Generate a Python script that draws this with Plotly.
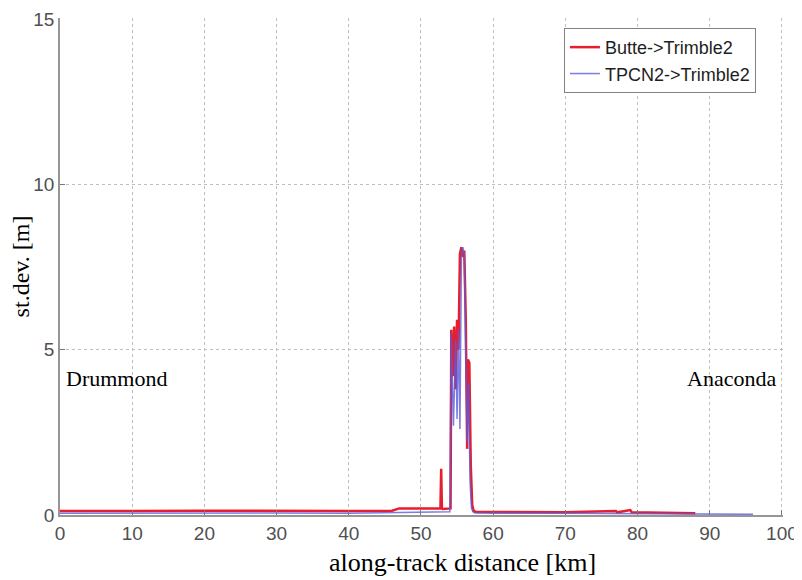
import plotly.graph_objects as go

# Butte->Trimble2
x_butte = [0, 5, 10, 20, 30, 40, 46, 47, 52.7, 52.8, 52.9, 53.0, 54.1, 54.2, 54.4, 54.6,
           54.8, 55.0, 55.2, 55.4, 55.6, 55.8, 56.0, 56.2, 56.4, 56.5, 56.7, 56.9, 57.1,
           57.3, 57.6, 60, 70, 77, 77.2, 79, 79.2, 88]
y_butte = [0.12, 0.13, 0.12, 0.13, 0.12, 0.12, 0.13, 0.2, 0.2, 1.4, 0.2, 0.18, 0.2, 5.6,
           4.2, 5.7, 3.8, 5.9, 5.0, 7.9, 8.1, 7.8, 8.0, 6.0, 2.0, 4.7, 4.6, 1.5, 0.3,
           0.12, 0.1, 0.1, 0.08, 0.12, 0.08, 0.15, 0.08, 0.05]

# TPCN2->Trimble2
x_tpcn = [0, 10, 20, 30, 40, 47, 52, 54.0, 54.2, 54.5, 54.8, 55.0, 55.2, 55.4, 55.6, 55.8,
          56.0, 56.2, 56.4, 56.6, 56.8, 57.0, 57.2, 57.5, 60, 70, 80, 90, 96]
y_tpcn = [0.05, 0.06, 0.05, 0.06, 0.05, 0.08, 0.08, 0.1, 5.5, 2.7, 5.3, 2.9, 5.6, 2.6, 7.8,
          8.1, 7.9, 5.0, 2.2, 4.0, 1.0, 0.2, 0.1, 0.06, 0.05, 0.05, 0.04, 0.03, 0.02]

x_ticks = [0, 10, 20, 30, 40, 50, 60, 70, 80, 90, 100]
y_ticks = [0, 5, 10, 15]

fig = go.Figure()
fig.add_trace(go.Scatter(x=x_butte, y=y_butte, mode="lines", name="Butte->Trimble2",
                         line=dict(color="rgb(230,30,45)", width=2.5)))
fig.add_trace(go.Scatter(x=x_tpcn, y=y_tpcn, mode="lines", name="TPCN2->Trimble2",
                         line=dict(color="rgba(90,90,220,0.8)", width=1.5)))

fig.add_annotation(x=0.5, y=4.14, text="Drummond", showarrow=False, xanchor="left",
                   font=dict(family="Liberation Serif", size=22, color="black"))
fig.add_annotation(x=99.5, y=4.14, text="Anaconda", showarrow=False, xanchor="right",
                   font=dict(family="Liberation Serif", size=22, color="black"))
fig.add_annotation(x=0.557, y=-0.095, xref="paper", yref="paper", yanchor="middle",
                   text="along-track distance [km]", showarrow=False,
                   font=dict(family="Liberation Serif", size=26, color="black"))

axis_common = dict(showgrid=True, gridcolor="rgb(190,190,190)", griddash="dot", gridwidth=1,
                   showline=True, linecolor="rgb(150,150,150)", linewidth=1.5,
                   ticks="inside", ticklen=5, tickcolor="rgb(120,120,120)",
                   tickfont=dict(family="Liberation Sans", size=19, color="rgb(80,80,80)"),
                   zeroline=False, mirror=False, automargin=False,
                   ticklabeloverflow="allow")

fig.update_xaxes(range=[0, 100.15], tickvals=x_ticks, **axis_common)
fig.update_yaxes(range=[0, 15.03], tickvals=y_ticks, **axis_common,
                 title=dict(text="st.dev. [m]", standoff=2,
                            font=dict(family="Liberation Serif", size=24, color="black")))

fig.update_layout(width=794, height=572, margin=dict(l=52, r=19, t=10, b=65),
                  plot_bgcolor="white", paper_bgcolor="white",
                  legend=dict(x=0.697, y=0.98, xanchor="left", yanchor="top",
                              bgcolor="white", bordercolor="rgb(130,130,130)", borderwidth=1,
                              font=dict(family="Liberation Sans", size=18, color="rgb(30,30,30)"),
                              itemwidth=30, tracegroupgap=2))

fig.write_html("out.html")
